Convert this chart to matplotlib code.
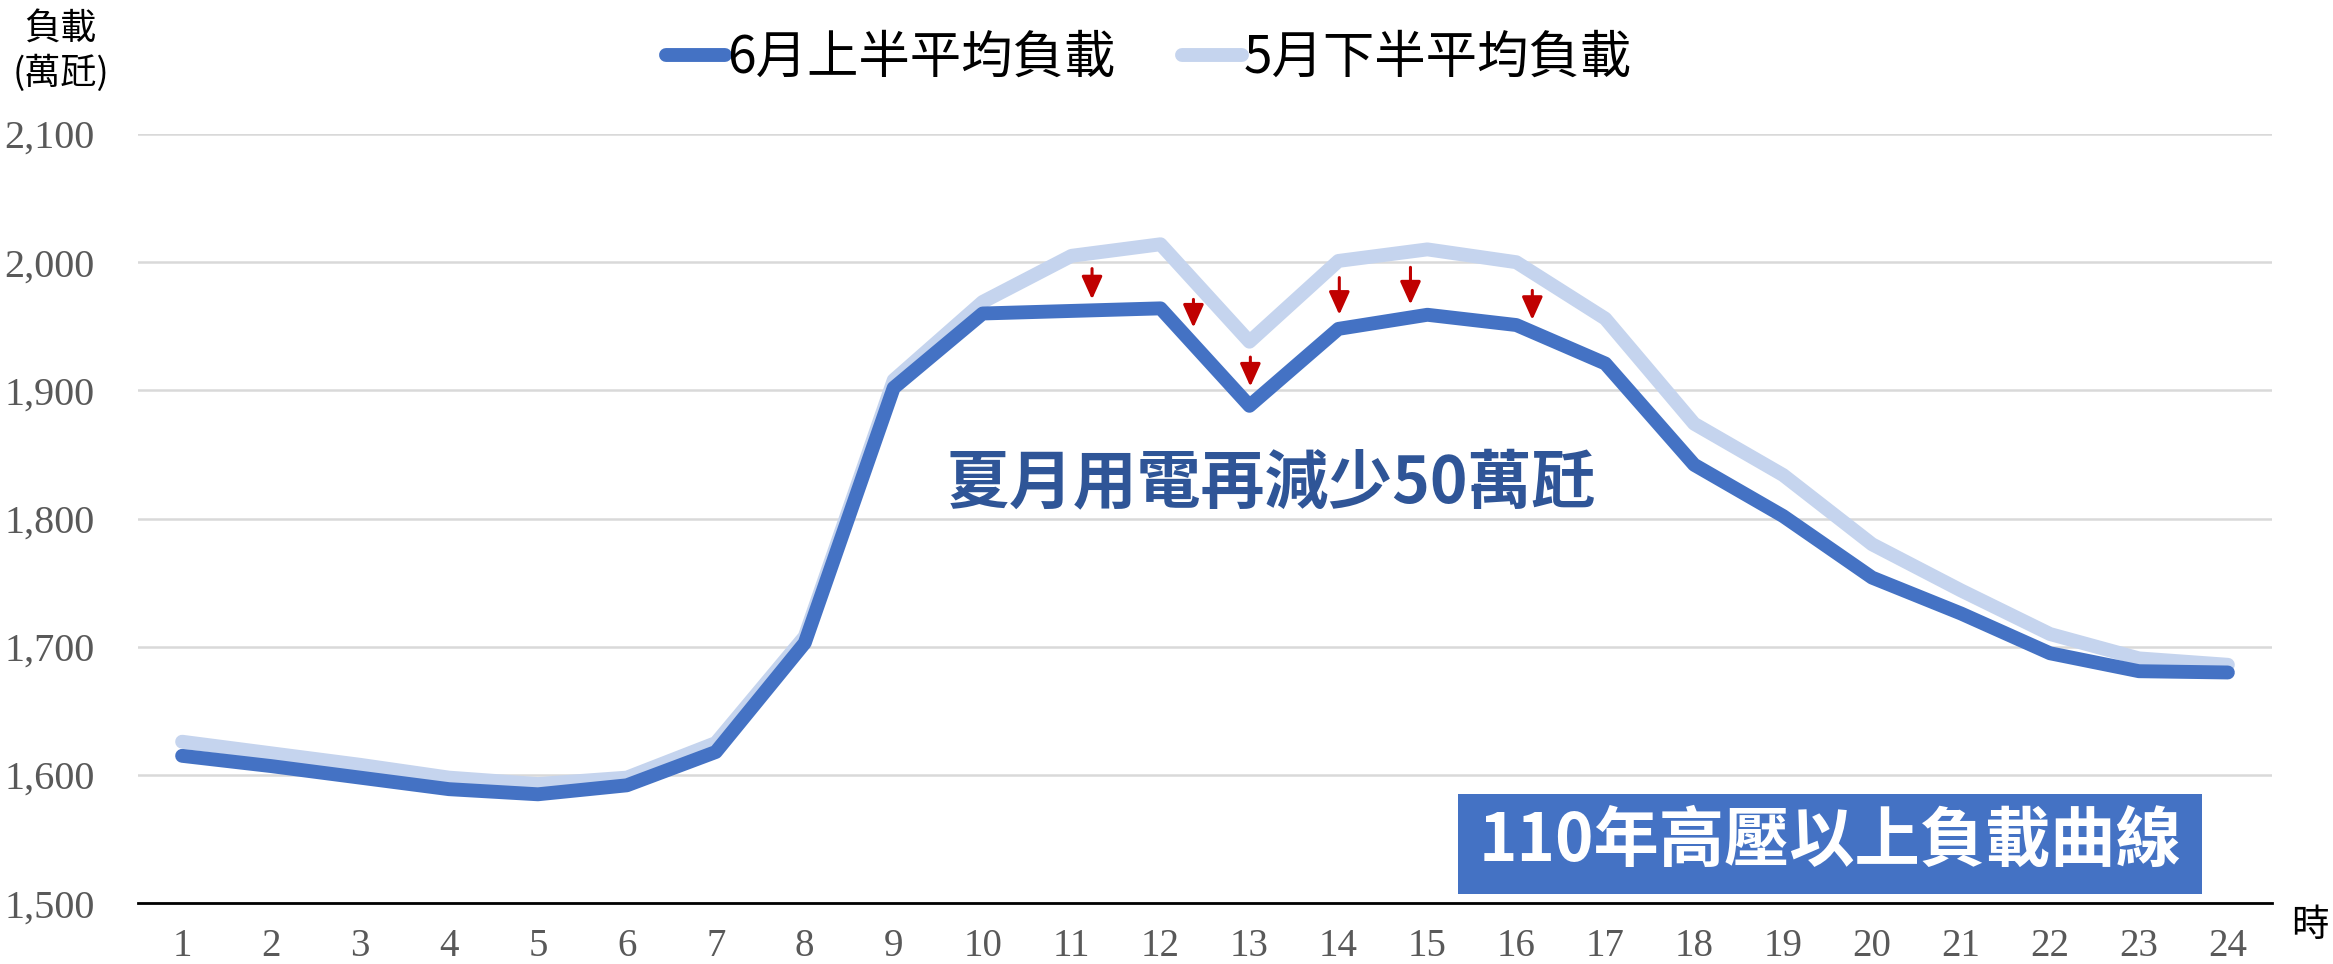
import matplotlib.pyplot as plt
from matplotlib.patches import Rectangle

# hourly data (萬瓩)
hours = list(range(1, 25))
june_first = [1615, 1607, 1598, 1589, 1585, 1592, 1618, 1703, 1902, 1960, 1962, 1964,
              1888, 1948, 1959, 1951, 1921, 1842, 1802, 1754, 1726, 1695, 1681, 1680]
may_second = [1626, 1617, 1608, 1598, 1593, 1598, 1625, 1708, 1908, 1969, 2005, 2014,
              1938, 2001, 2010, 2000, 1956, 1874, 1834, 1780, 1744, 1710, 1691, 1686]
yticks = [1500, 1600, 1700, 1800, 1900, 2000, 2100]

# red arrows (x in hours, top / tip in 萬瓩)
arrow_x = [11.23, 12.37, 13.01, 14.01, 14.81, 16.18]
arrow_top = [1995, 1971, 1926, 1988, 1996, 1978]
arrow_tip = [1971, 1949, 1903, 1959, 1967, 1955]

cjk = ['Noto Sans CJK TC', 'DejaVu Sans']
serif = 'Liberation Serif'
dark = '#4472C4'
light = '#C5D4EE'

fig = plt.figure(figsize=(23.33, 9.64), dpi=100)
ax = fig.add_axes([0.059, 0.063, 0.915, 0.798])

l2, = ax.plot(hours, may_second, color=light, lw=10, solid_capstyle='round',
              solid_joinstyle='round', label='5月下半平均負載', zorder=3)
l1, = ax.plot(hours, june_first, color=dark, lw=10, solid_capstyle='round',
              solid_joinstyle='round', label='6月上半平均負載', zorder=4)

ax.set_xlim(0.5, 24.5)
ax.set_ylim(1500, 2100)
ax.set_yticks(yticks)
ax.set_yticklabels([f'{v:,}' for v in yticks], fontfamily=serif, fontsize=29, color='#595959')
ax.set_xticks(hours)
ax.set_xticklabels([str(h) for h in hours], fontfamily=serif, fontsize=28, color='#595959')
ax.tick_params(axis='x', length=0, pad=18)
ax.tick_params(axis='y', length=0, pad=31)
ax.grid(axis='y', color='#D9D9D9', lw=1.8, zorder=0)
for s in ['top', 'right', 'left']:
    ax.spines[s].set_visible(False)
ax.spines['bottom'].set_color('black')
ax.spines['bottom'].set_linewidth(2)
ax.spines['bottom'].set_zorder(5)

for x, t, b in zip(arrow_x, arrow_top, arrow_tip):
    ax.annotate('', xy=(x, b), xytext=(x, t),
                arrowprops=dict(arrowstyle='-|>,head_length=1.0,head_width=0.45',
                                color='#C00000', lw=2.2, shrinkA=0, shrinkB=0,
                                mutation_scale=14), zorder=6)

ax.text(13.24, 1827, '夏月用電再減少50萬瓩', family=cjk, fontsize=46, fontweight='black',
        color='#2F5597', ha='center', va='center', zorder=7)

# title box
box_x0, box_x1 = 15.35, 23.71
box_y0, box_y1 = 1507, 1585
ax.add_patch(Rectangle((box_x0, box_y0), box_x1 - box_x0, box_y1 - box_y0,
                       facecolor=dark, edgecolor='none', zorder=6))
ax.text((box_x0 + box_x1) / 2, (box_y0 + box_y1) / 2 + 2, '110年高壓以上負載曲線', family=cjk,
        fontsize=47, fontweight='bold', color='white', ha='center', va='center', zorder=7)

fig.text(0.026, 0.969, '負載', family=cjk, fontsize=26, ha='center', va='center')
fig.text(0.026, 0.924, '(萬瓩)', family=cjk, fontsize=26, ha='center', va='center')
fig.text(0.99, 0.04, '時', family=cjk, fontsize=27, ha='center', va='center')

fig.legend(handles=[l1, l2], loc='center', bbox_to_anchor=(0.4925, 0.94), ncol=2,
           frameon=False, prop={'family': cjk, 'size': 37}, handlelength=1.15,
           handletextpad=0.05, columnspacing=1.3)

fig.savefig('out.png', dpi=100)
